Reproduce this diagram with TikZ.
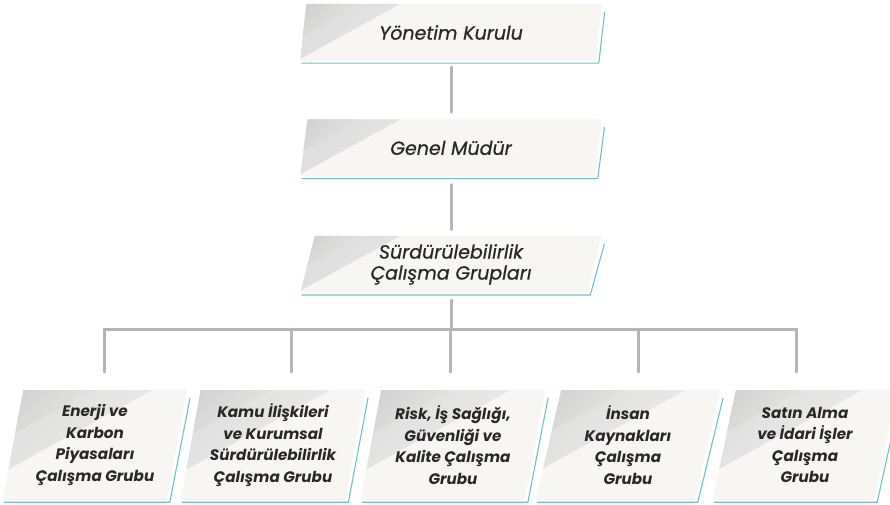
\documentclass[tikz,border=0pt]{standalone}
\usepackage{fontspec}
\setmainfont{Poppins}
\newfontfamily\medfont[FakeBold=0.6]{Poppins}
\usetikzlibrary{shapes.geometric, positioning}
\definecolor{boxfill}{RGB}{248,246,243}
\definecolor{fadegray}{RGB}{210,210,210}
\definecolor{edgeteal}{RGB}{112,193,200}
\definecolor{linkgray}{RGB}{181,181,181}
\definecolor{txt}{RGB}{40,40,40}

\tikzset{
  para/.style={trapezium, trapezium left angle=78, trapezium right angle=102,
    trapezium stretches=true, fill=boxfill, inner sep=0pt, align=center, text=txt,
    path picture={
      \shade[top color=fadegray!70, bottom color=fadegray!15!boxfill, shading angle=45]
        (path picture bounding box.north west) -- ++(#1,0) -- ++(-#1,0.55*#1) -- cycle;
      \shade[top color=fadegray, bottom color=fadegray!40!boxfill, shading angle=45]
        (path picture bounding box.north west) -- ++(0.6*#1,0) -- ++(-0.6*#1,0.33*#1) -- cycle;
    }},
  topbox/.style={para=100, minimum width=302pt, minimum height=57pt,
    font=\fontsize{19}{21}\selectfont\medfont\itshape},
  groupbox/.style={para=150, minimum width=185pt, minimum height=110pt,
    font=\fontsize{15.2}{21.5}\selectfont\bfseries\itshape},
  link/.style={draw=linkgray, line width=3pt, line cap=round},
  rim/.style={draw=edgeteal, line width=1.1pt}
}

\begin{document}
\begin{tikzpicture}[x=1pt, y=-1pt]
  \useasboundingbox (0,0) rectangle (890,505);

  \node (board) [topbox] at (451,32.5) {Yönetim Kurulu};
  \node (gm) [topbox, below=58pt of board] {Genel Müdür};
  \node (swg) [topbox, below=59pt of gm] {Sürdürülebilirlik\\Çalışma Grupları};

  \node (energy) [groupbox] at (95,445) {Enerji ve\\Karbon\\Piyasaları\\Çalışma Grubu};
  \node (public) [groupbox] at (273,445) {Kamu İlişkileri\\ve Kurumsal\\Sürdürülebilirlik\\Çalışma Grubu};
  \node (risk) [groupbox] at (453,445) {Risk, İş Sağlığı,\\Güvenliği ve\\Kalite Çalışma\\Grubu};
  \node (hr) [groupbox] at (628,445) {İnsan\\Kaynakları\\Çalışma\\Grubu};
  \node (buy) [groupbox] at (805,445) {Satın Alma\\ve İdari İşler\\Çalışma\\Grubu};

  % teal edge under and right of every box
  \foreach \n in {board, gm, swg, energy, public, risk, hr, buy}
    \draw[rim] ([xshift=1.5pt, yshift=-2pt]\n.bottom left corner)
      -- ([xshift=3pt, yshift=-2pt]\n.bottom right corner)
      -- ([xshift=2.5pt, yshift=-8pt]\n.top right corner);

  % links
  \draw[link] ([yshift=-6pt]board.south) -- ([yshift=7pt]gm.north);
  \draw[link] ([yshift=-8pt]gm.south) -- ([yshift=6pt]swg.north);
  \coordinate (bar) at ([yshift=-36pt]swg.south);
  \draw[link] ([yshift=-7pt]swg.south) -- (bar);

  \coordinate (t1) at (104,372);
  \coordinate (t2) at (291,372);
  \coordinate (t3) at (450,372);
  \coordinate (t4) at (638,372);
  \coordinate (t5) at (796,372);
  \draw[link] (t1) |- (bar) -| (t5);
  \foreach \t in {t2, t3, t4}
    \draw[link] (\t) -- (\t |- bar);
\end{tikzpicture}
\end{document}
